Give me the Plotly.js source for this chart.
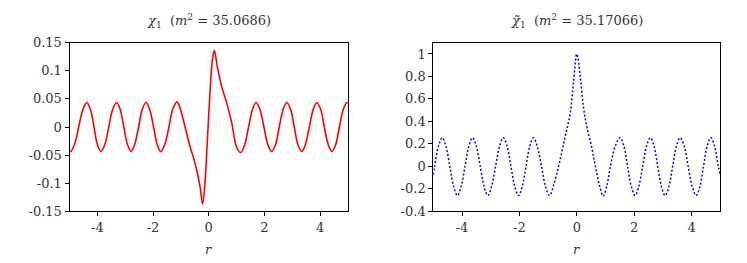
<!DOCTYPE html>
<html>
<head>
<meta charset="utf-8">
<script src="https://cdn.plot.ly/plotly-3.0.1.min.js"></script>
<style>
html,body{margin:0;padding:0;background:#fff;}
#chart{width:747px;height:263px;}
</style>
</head>
<body>
<div id="chart"></div>
<script>
// Left panel: chi_1 (m^2 = 35.0686)
const chiR = [-5.00,-4.96,-4.82,-4.67,-4.52,-4.38,-4.25,-4.12,-4.00,-3.87,-3.73,-3.59,-3.45,-3.31,-3.18,-3.05,-2.92,-2.79,-2.66,-2.52,-2.39,-2.25,-2.12,-1.98,-1.85,-1.72,-1.58,-1.43,-1.29,-1.14,-1.02,-0.91,-0.82,-0.73,-0.64,-0.55,-0.43,-0.31,-0.22,-0.13,-0.05,0.05,0.13,0.20,0.31,0.47,0.65,0.83,1.00,1.15,1.29,1.43,1.57,1.70,1.84,1.98,2.12,2.26,2.40,2.53,2.67,2.80,2.94,3.07,3.20,3.34,3.47,3.61,3.75,3.88,4.02,4.15,4.29,4.42,4.56,4.69,4.83,4.96,5.00];
const chiV = [-0.0430,-0.0435,-0.031,0.000,0.031,0.0435,0.031,0.000,-0.031,-0.0435,-0.031,0.000,0.031,0.0435,0.031,0.000,-0.031,-0.0435,-0.031,0.000,0.031,0.0440,0.031,0.000,-0.031,-0.0440,-0.031,0.000,0.032,0.0447,0.032,0.012,-0.006,-0.024,-0.040,-0.054,-0.077,-0.107,-0.137,-0.095,-0.024,0.066,0.119,0.136,0.107,0.071,0.042,0.006,-0.036,-0.0455,-0.032,0.000,0.031,0.0435,0.031,0.000,-0.031,-0.0435,-0.031,0.000,0.031,0.0435,0.031,0.000,-0.031,-0.0435,-0.031,0.000,0.031,0.0435,0.031,0.000,-0.031,-0.0435,-0.031,0.000,0.031,0.0435,0.0430];

// Right panel: chi~_1 (m^2 = 35.17066)
const chiTR = [-5.00,-4.955,-4.82,-4.69,-4.56,-4.425,-4.29,-4.16,-4.03,-3.895,-3.76,-3.63,-3.50,-3.365,-3.23,-3.10,-2.97,-2.83,-2.69,-2.56,-2.43,-2.295,-2.16,-2.03,-1.90,-1.77,-1.64,-1.51,-1.38,-1.23,-1.09,-0.95,-0.80,-0.64,-0.52,-0.41,-0.32,-0.23,-0.12,0.00,0.12,0.23,0.35,0.52,0.61,0.70,0.80,0.92,1.05,1.17,1.34,1.51,1.64,1.77,1.90,2.03,2.16,2.295,2.43,2.56,2.69,2.82,2.95,3.08,3.21,3.34,3.47,3.60,3.74,3.88,4.02,4.16,4.29,4.415,4.54,4.67,4.80,4.93,5.00];
const chiTV = [-0.075,0.000,0.18,0.255,0.18,0.000,-0.18,-0.26,-0.18,0.000,0.18,0.255,0.18,0.000,-0.18,-0.26,-0.18,0.000,0.18,0.255,0.18,0.000,-0.18,-0.26,-0.18,0.000,0.18,0.255,0.18,0.000,-0.18,-0.26,-0.16,-0.006,0.13,0.26,0.36,0.47,0.735,1.00,0.80,0.53,0.35,0.17,0.05,-0.065,-0.18,-0.265,-0.17,0.000,0.18,0.255,0.18,0.000,-0.18,-0.26,-0.18,0.000,0.18,0.255,0.18,0.000,-0.18,-0.26,-0.18,0.000,0.18,0.255,0.18,0.000,-0.18,-0.26,-0.18,0.000,0.18,0.255,0.18,0.000,-0.08];

// Tick labels
const xTickVals = [-4,-2,0,2,4];
const xTickText = ["-4","-2","0","2","4"];
const leftYTickVals = [-0.15,-0.1,-0.05,0,0.05,0.1,0.15];
const leftYTickText = ["-0.15","-0.1","-0.05","0","0.05","0.1","0.15"];
const rightYTickVals = [-0.4,-0.2,0,0.2,0.4,0.6,0.8,1];
const rightYTickText = ["-0.4","-0.2","0","0.2","0.4","0.6","0.8","1"];

const leftTitle = "<i>χ</i><sub>1</sub>  (<i>m</i><sup>2</sup> = 35.0686)";
const rightTitle = "<i>χ̃</i><sub>1</sub>  (<i>m</i><sup>2</sup> = 35.17066)";
const axisLabel = "<i>r</i>";

const FONT = {family: "DejaVu Serif, serif", size: 13, color: "#333"};

const traces = [
  {x: chiR, y: chiV, xaxis: "x", yaxis: "y", type: "scatter", mode: "lines",
   line: {color: "rgb(255,0,0)", width: 1.6, shape: "spline", smoothing: 1}, hoverinfo: "skip"},
  {x: chiTR, y: chiTV, xaxis: "x2", yaxis: "y2", type: "scatter", mode: "lines",
   line: {color: "rgb(0,0,255)", width: 1.5, dash: "2px,2px", shape: "spline", smoothing: 1}, hoverinfo: "skip"}
];

const axBase = {
  showline: true, mirror: true, linecolor: "#000", linewidth: 1,
  ticks: "outside", ticklen: 4, tickcolor: "#000", tickwidth: 1,
  showgrid: false, zeroline: false, tickfont: FONT, fixedrange: true
};

const W = 747, H = 263;
const layout = {
  width: W, height: H,
  margin: {l: 0, r: 0, t: 0, b: 0},
  paper_bgcolor: "#fff", plot_bgcolor: "#fff",
  showlegend: false,
  font: FONT,
  xaxis: Object.assign({}, axBase, {domain: [69.5/W, 348/W], range: [-5,5],
    tickmode: "array", tickvals: xTickVals, ticktext: xTickText, anchor: "y"}),
  yaxis: Object.assign({}, axBase, {domain: [(H-211.3)/H, (H-42.7)/H], range: [-0.15,0.15],
    tickmode: "array", tickvals: leftYTickVals, ticktext: leftYTickText, anchor: "x"}),
  xaxis2: Object.assign({}, axBase, {domain: [433.3/W, 720.3/W], range: [-5,5],
    tickmode: "array", tickvals: xTickVals, ticktext: xTickText, anchor: "y2"}),
  yaxis2: Object.assign({}, axBase, {domain: [(H-211.3)/H, (H-42.7)/H], range: [-0.4,1.1],
    tickmode: "array", tickvals: rightYTickVals, ticktext: rightYTickText, anchor: "x2"}),
  annotations: [
    {text: leftTitle, xref: "paper", yref: "paper", x: 208.7/W, y: (H-21)/H,
     xanchor: "center", yanchor: "middle", showarrow: false, font: FONT},
    {text: rightTitle, xref: "paper", yref: "paper", x: 576.7/W, y: (H-21)/H,
     xanchor: "center", yanchor: "middle", showarrow: false, font: FONT},
    {text: axisLabel, xref: "paper", yref: "paper", x: 208.7/W, y: (H-249)/H,
     xanchor: "center", yanchor: "middle", showarrow: false, font: FONT},
    {text: axisLabel, xref: "paper", yref: "paper", x: 576.7/W, y: (H-249)/H,
     xanchor: "center", yanchor: "middle", showarrow: false, font: FONT}
  ]
};

Plotly.newPlot("chart", traces, layout, {displayModeBar: false, staticPlot: true});
</script>
</body>
</html>
